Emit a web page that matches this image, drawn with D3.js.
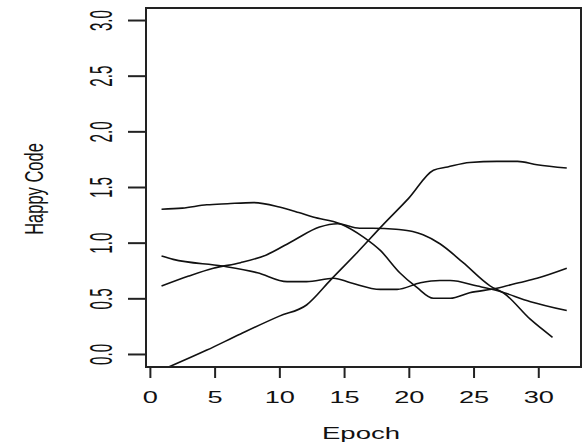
<!DOCTYPE html>
<html>
<head>
<meta charset="utf-8">
<script src="https://cdn.jsdelivr.net/npm/d3@7"></script>
<style>
  html, body { margin: 0; padding: 0; background: #fff; }
  svg { display: block; font-family: "Liberation Sans", Arial, sans-serif; }
</style>
</head>
<body>
<svg id="chart" width="587" height="448"></svg>
<script>
// ---- data ----
const xTicks = [0, 5, 10, 15, 20, 25, 30];
const yTicks = [0.0, 0.5, 1.0, 1.5, 2.0, 2.5, 3.0];
const xLabel = "Epoch";
const yLabel = "Happy Code";

const epochsA = [1.4, 4.4, 7, 10, 12.1, 14, 16, 18, 20, 21.9, 23, 24.7, 26.8, 28.4, 29.9, 32.2];
const valuesA = [-0.12, 0.035, 0.18, 0.34, 0.44, 0.67, 0.91, 1.16, 1.40, 1.65, 1.68, 1.72, 1.73, 1.73, 1.70, 1.67];

const epochsB = [0.9, 2.5, 4.4, 6, 8, 10, 11.5, 12.6, 14.7, 16.5, 17.8, 19.3, 20.6, 21.9, 23.2, 24.7, 26.8, 28.5, 29.9, 32.2];
const valuesB = [1.30, 1.31, 1.34, 1.35, 1.36, 1.32, 1.27, 1.23, 1.17, 1.05, 0.93, 0.73, 0.60, 0.50, 0.50, 0.55, 0.59, 0.64, 0.68, 0.77];

const epochsC = [0.9, 3, 4.9, 7, 9, 11.1, 13.1, 14.5, 16.2, 17.2, 19, 20.3, 21.1, 22.4, 24.2, 26.3, 27.3, 29.4, 31.1];
const valuesC = [0.61, 0.70, 0.77, 0.82, 0.89, 1.02, 1.14, 1.17, 1.13, 1.13, 1.12, 1.10, 1.07, 0.99, 0.82, 0.61, 0.55, 0.31, 0.15];

const epochsD = [0.9, 1.8, 5.6, 8.3, 10.6, 12.1, 14.2, 15.5, 17.8, 19.1, 20.9, 22.4, 23.2, 25.3, 26.8, 29.4, 32.2];
const valuesD = [0.88, 0.85, 0.79, 0.73, 0.65, 0.65, 0.68, 0.64, 0.58, 0.58, 0.64, 0.66, 0.66, 0.61, 0.57, 0.47, 0.39];

const series = [
  { epochs: epochsA, values: valuesA },
  { epochs: epochsB, values: valuesB },
  { epochs: epochsC, values: valuesC },
  { epochs: epochsD, values: valuesD }
];

// ---- layout ----
const plot = { left: 146, right: 581, top: 8, bottom: 367 };
const svg = d3.select("#chart");

const x = d3.scaleLinear().domain([-0.3, 33.3]).range([plot.left, plot.right]);
const y = d3.scaleLinear().domain([-0.117, 3.108]).range([plot.bottom, plot.top]);

// lines
const line = d3.line()
  .x(d => x(d[0]))
  .y(d => y(d[1]))
  .curve(d3.curveMonotoneX);

svg.append("g").selectAll("path")
  .data(series)
  .join("path")
  .attr("d", s => line(s.epochs.map((e, i) => [e, s.values[i]])))
  .attr("fill", "none")
  .attr("stroke", "#111")
  .attr("stroke-width", 1.6)
  .attr("stroke-linejoin", "round");

// box
svg.append("rect")
  .attr("x", plot.left).attr("y", plot.top)
  .attr("width", plot.right - plot.left)
  .attr("height", plot.bottom - plot.top)
  .attr("fill", "none")
  .attr("stroke", "#222")
  .attr("stroke-width", 2);

// y axis
const gy = svg.append("g")
  .attr("transform", `translate(${plot.left},0)`)
  .call(d3.axisLeft(y).tickValues(yTicks).tickSize(18).tickFormat(d3.format(".1f")));
gy.select(".domain").remove();
gy.selectAll(".tick line").attr("stroke", "#222").attr("stroke-width", 2);
gy.selectAll(".tick text")
  .attr("x", null).attr("dy", null).attr("y", null)
  .attr("fill", "#111")
  .attr("font-size", 16)
  .attr("text-anchor", "middle")
  .attr("transform", "translate(-34,0) scale(1.95,0.95) rotate(-90)");

// x axis
const gx = svg.append("g")
  .attr("transform", `translate(0,${plot.bottom})`)
  .call(d3.axisBottom(x).tickValues(xTicks).tickSize(11).tickFormat(d3.format("d")));
gx.select(".domain").remove();
gx.selectAll(".tick line").attr("stroke", "#222").attr("stroke-width", 2);
gx.selectAll(".tick text")
  .attr("y", null).attr("dy", null)
  .attr("fill", "#111")
  .attr("font-size", 17)
  .attr("text-anchor", "middle")
  .attr("transform", "translate(0,36) scale(1.6,1)");

// axis titles
svg.append("text")
  .attr("transform", "translate(361,439) scale(1.62,1)")
  .attr("text-anchor", "middle")
  .attr("font-size", 17)
  .attr("fill", "#111")
  .text(xLabel);

svg.append("text")
  .attr("transform", "translate(43,189) scale(1.57,1.03) rotate(-90)")
  .attr("text-anchor", "middle")
  .attr("font-size", 16)
  .attr("fill", "#111")
  .text(yLabel);
</script>
</body>
</html>
